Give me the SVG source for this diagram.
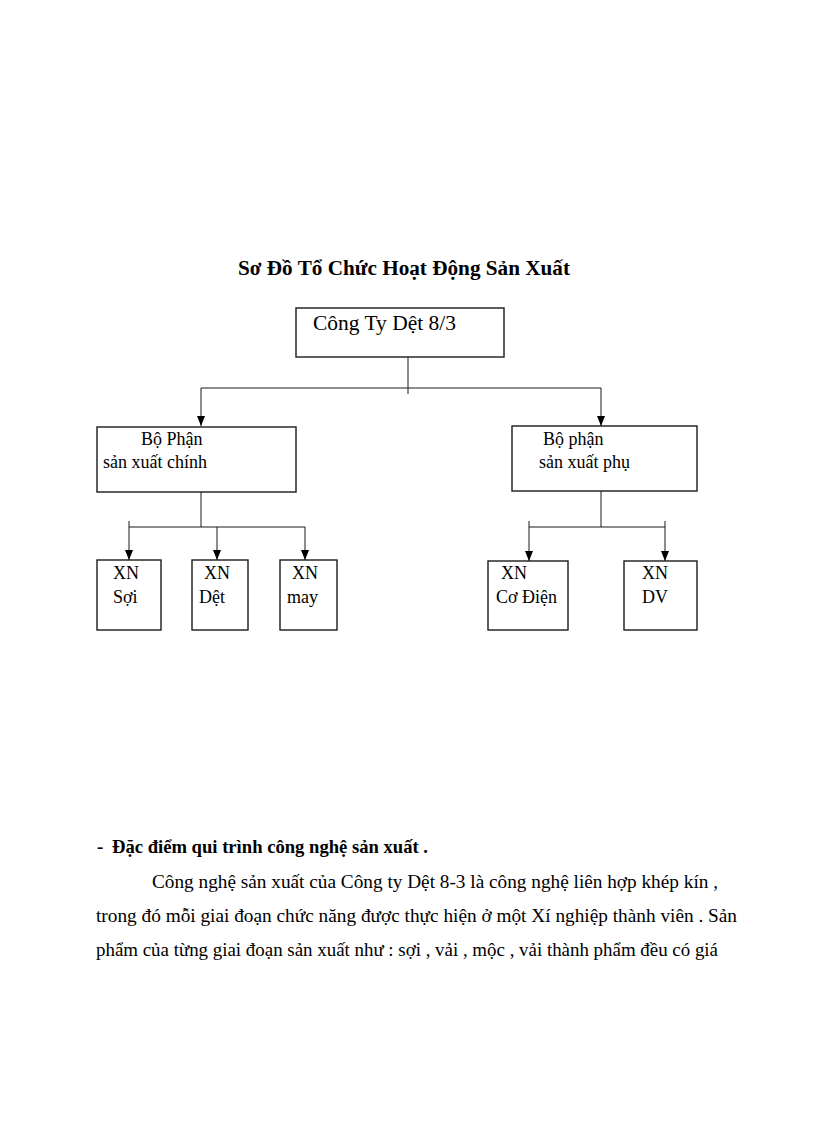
<svg xmlns="http://www.w3.org/2000/svg" width="816" height="1123" viewBox="0 0 816 1123">
  <style>
    .box { fill: #ffffff; stroke: #1a1a1a; stroke-width: 1.4; }
    .lbl { font-family: "Liberation Serif", "Times New Roman", serif; font-size: 18px; fill: #000; }
    .big { font-family: "Liberation Serif", "Times New Roman", serif; font-size: 21px; fill: #000; }
    .title { font-family: "Liberation Serif", "Times New Roman", serif; font-size: 21px; font-weight: bold; fill: #000; }
    .body { font-family: "Liberation Serif", "Times New Roman", serif; font-size: 19px; fill: #000; }
    .bodyb { font-family: "Liberation Serif", "Times New Roman", serif; font-size: 19px; font-weight: bold; fill: #000; }
    .conn { fill: none; stroke: #1a1a1a; stroke-width: 1; }
  </style>
  <defs>
    <marker id="arrow" markerUnits="userSpaceOnUse" markerWidth="10" markerHeight="10" viewBox="0 0 10 10" refX="10" refY="5" orient="auto">
      <path d="M0,1 L10,5 L0,9 Z" fill="#000"/>
    </marker>
  </defs>
  <rect width="816" height="1123" fill="#ffffff"/>

  <text class="title" x="238" y="275" textLength="332" lengthAdjust="spacingAndGlyphs">Sơ Đồ Tổ Chức Hoạt Động Sản Xuất</text>

  <g id="connectors">
    <path class="conn" d="M408,357 L408,394"/>
    <path class="conn" d="M201,388 L601,388"/>
    <path class="conn" d="M201,388 L201,426" marker-end="url(#arrow)"/>
    <path class="conn" d="M601,388 L601,426" marker-end="url(#arrow)"/>

    <path class="conn" d="M201,492 L201,527"/>
    <path class="conn" d="M129,527 L305,527"/>
    <path class="conn" d="M129,521 L129,560" marker-end="url(#arrow)"/>
    <path class="conn" d="M217,527 L217,560" marker-end="url(#arrow)"/>
    <path class="conn" d="M305,527 L305,560" marker-end="url(#arrow)"/>

    <path class="conn" d="M601,491 L601,527"/>
    <path class="conn" d="M529,527 L665,527"/>
    <path class="conn" d="M529,521 L529,561" marker-end="url(#arrow)"/>
    <path class="conn" d="M665,521 L665,561" marker-end="url(#arrow)"/>
  </g>

  <g id="node-congty">
    <rect class="box" x="296" y="308" width="208" height="49"/>
    <text class="big" x="313" y="330" textLength="143" lengthAdjust="spacingAndGlyphs">Công Ty Dệt 8/3</text>
  </g>

  <g id="node-bophan-chinh">
    <rect class="box" x="97" y="427" width="199" height="65"/>
    <text class="lbl" x="141" y="445">Bộ Phận</text>
    <text class="lbl" x="103" y="468">sản xuất  chính</text>
  </g>

  <g id="node-bophan-phu">
    <rect class="box" x="512" y="426" width="185" height="65"/>
    <text class="lbl" x="543" y="445">Bộ phận</text>
    <text class="lbl" x="539" y="468">sản xuất phụ</text>
  </g>

  <g id="node-xn-soi">
    <rect class="box" x="97" y="560" width="64" height="70"/>
    <text class="lbl" x="113" y="579">XN</text>
    <text class="lbl" x="113" y="603">Sợi</text>
  </g>

  <g id="node-xn-det">
    <rect class="box" x="192" y="560" width="56" height="70"/>
    <text class="lbl" x="204" y="579">XN</text>
    <text class="lbl" x="199" y="603">Dệt</text>
  </g>

  <g id="node-xn-may">
    <rect class="box" x="280" y="560" width="57" height="70"/>
    <text class="lbl" x="292" y="579">XN</text>
    <text class="lbl" x="287" y="603">may</text>
  </g>

  <g id="node-xn-codien">
    <rect class="box" x="488" y="561" width="80" height="69"/>
    <text class="lbl" x="501" y="579">XN</text>
    <text class="lbl" x="496" y="603">Cơ Điện</text>
  </g>

  <g id="node-xn-dv">
    <rect class="box" x="624" y="561" width="73" height="69"/>
    <text class="lbl" x="642" y="579">XN</text>
    <text class="lbl" x="642" y="603">DV</text>
  </g>

  <g id="paragraph">
    <text class="bodyb" x="97" y="853">-</text>
    <text class="bodyb" x="112" y="853" textLength="316" lengthAdjust="spacingAndGlyphs">Đặc điểm qui trình công nghệ sản xuất .</text>
    <text class="body" x="152" y="888" textLength="566" lengthAdjust="spacingAndGlyphs">Công nghệ  sản xuất  của Công ty Dệt 8-3 là  công nghệ liên  hợp khép kín ,</text>
    <text class="body" x="96" y="922" textLength="641" lengthAdjust="spacingAndGlyphs">trong đó mỗi giai  đoạn chức năng được thực hiện ở một Xí nghiệp thành viên . Sản</text>
    <text class="body" x="96" y="956" textLength="622" lengthAdjust="spacingAndGlyphs">phẩm của từng giai  đoạn sản xuất như : sợi , vải , mộc , vải thành phẩm đều có giá</text>
  </g>
</svg>
